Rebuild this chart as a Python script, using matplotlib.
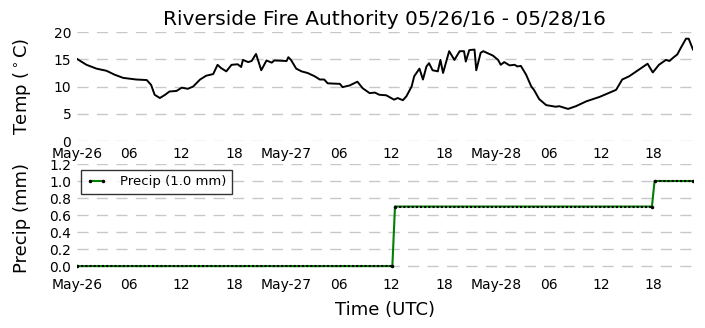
import datetime
import numpy as np
import matplotlib
matplotlib.use("Agg")
import matplotlib.pyplot as plt
import matplotlib.dates as mdates
from matplotlib.ticker import FuncFormatter

# hours since 2016-05-26 00:00 UTC, temperature in deg C
temp_hours = [0.0, 1.1, 2.25, 3.4, 4.3, 5.3, 6.8, 8.0, 8.5, 8.9, 9.5, 10.1, 10.6, 11.4,
              12.0, 12.7, 13.3, 14.1, 14.8, 15.6, 16.1, 16.5, 17.1, 17.7, 18.4, 18.8,
              19.0, 19.6, 20.0, 20.5, 21.1, 21.7, 22.3, 22.6, 24.0, 24.2, 24.5, 25.1,
              25.7, 26.4, 27.2, 27.8, 28.3, 28.7, 30.1, 30.4, 31.2, 32.1, 32.7, 33.5,
              34.1, 34.6, 35.4, 36.3, 36.7, 37.3, 37.7, 38.3, 38.6, 39.2, 39.6, 40.0,
              40.3, 40.7, 41.3, 41.6, 41.9, 42.6, 43.2, 43.8, 44.3, 44.5, 44.9, 45.5,
              45.7, 46.2, 46.5, 47.6, 48.2, 48.5, 48.9, 49.5, 50.1, 50.4, 50.8, 51.4,
              52.0, 52.3, 52.9, 53.7, 54.8, 55.2, 56.2, 57.1, 58.3, 59.8, 61.7, 62.4,
              63.2, 64.3, 65.3, 65.9, 66.6, 67.4, 67.8, 68.3, 68.7, 69.1, 69.7, 70.0,
              70.5]
temp_vals = [15.1, 14.0, 13.3, 12.9, 12.2, 11.6, 11.3, 11.2, 10.3, 8.5, 7.9, 8.5, 9.1, 9.2,
             9.8, 9.6, 10.0, 11.3, 12.0, 12.3, 14.0, 13.4, 12.8, 14.0, 14.1, 13.6,
             14.9, 14.5, 14.7, 16.0, 13.0, 14.8, 14.4, 14.8, 14.7, 15.4, 14.9, 13.3,
             12.8, 12.5, 11.9, 11.3, 11.3, 10.6, 10.5, 9.9, 10.2, 10.9, 9.7, 8.8,
             8.9, 8.5, 8.4, 7.6, 7.9, 7.5, 8.2, 10.0, 11.9, 13.3, 11.3, 13.7,
             14.3, 13.0, 12.8, 14.9, 12.5, 16.5, 14.9, 16.5, 16.5, 14.6, 16.7, 16.8,
             13.0, 16.2, 16.5, 15.7, 14.9, 14.0, 14.5, 13.9, 14.0, 13.7, 13.8, 12.2,
             10.0, 9.4, 7.7, 6.6, 6.3, 6.4, 5.9, 6.4, 7.3, 8.1, 9.4, 11.3,
             11.9, 13.1, 14.2, 12.6, 14.0, 14.9, 14.7, 15.4, 15.9, 17.1, 18.8, 18.8,
             16.8]

# cumulative precipitation (mm), breakpoints
precip_hours = [0.0, 36.1, 36.4, 65.8, 66.1, 70.5]
precip_vals = [0.0, 0.0, 0.7, 0.7, 1.0, 1.0]
precip_total = 1.0

title = "Riverside Fire Authority 05/26/16 - 05/28/16"
start = datetime.datetime(2016, 5, 26)


def to_dates(hours):
    return [start + datetime.timedelta(hours=h) for h in hours]


def fmt_time(x, pos):
    d = mdates.num2date(x)
    if d.hour == 0:
        return d.strftime("%b-%d")
    return d.strftime("%H")


def style_axis(ax):
    for s in ax.spines.values():
        s.set_visible(False)
    ax.tick_params(length=0, labelsize=10, pad=4)
    ax.yaxis.grid(True, color="#c8c8c8", linestyle=(0, (8, 6)), linewidth=1)
    ax.set_axisbelow(True)
    ax.xaxis.set_major_locator(mdates.HourLocator(byhour=[0, 6, 12, 18]))
    ax.xaxis.set_major_formatter(FuncFormatter(fmt_time))
    ax.set_xlim(to_dates([0.0])[0], to_dates([70.5])[0])


fig = plt.figure(figsize=(7.05, 3.28), dpi=100)
ax1 = fig.add_axes([0.109, 0.570, 0.874, 0.332])
ax2 = fig.add_axes([0.109, 0.168, 0.874, 0.332])

t_dates = to_dates(temp_hours)
ax1.plot(t_dates, temp_vals, color="black", linewidth=1.4)
ax1.set_ylim(0, 20)
ax1.set_yticks([0, 5, 10, 15, 20])
style_axis(ax1)
ax1.set_ylabel("Temp ($^\\circ$C)", fontsize=13, labelpad=15)
ax1.set_title(title, fontsize=14.5, pad=5)

p_dates = to_dates(precip_hours)
ax2.plot(p_dates, precip_vals, color="green", linewidth=1.5,
         label="Precip (%.1f mm)" % precip_total, marker="o", markersize=1.5,
         markerfacecolor="black", markeredgecolor="black")
# flat stretches show dense black sample markers
for i in range(0, len(p_dates), 2):
    ax2.plot(p_dates[i:i + 2], precip_vals[i:i + 2], color="black",
             linestyle=(0, (1, 1)), linewidth=1.5)
ax2.set_ylim(-0.08, 1.2)
ax2.set_yticks([0.0, 0.2, 0.4, 0.6, 0.8, 1.0, 1.2])
ax2.yaxis.set_major_formatter(FuncFormatter(lambda v, p: "%.1f" % v))
style_axis(ax2)
ax2.set_ylabel("Precip (mm)", fontsize=13, labelpad=13)
ax2.set_xlabel("Time (UTC)", fontsize=13, labelpad=6)
leg = ax2.legend(loc="upper left", fontsize=9.5, fancybox=False, numpoints=2,
                 handlelength=1.6, handletextpad=1.0,
                 bbox_to_anchor=(0.0, 0.98), borderaxespad=0.3)
leg.get_frame().set_edgecolor("black")
leg.get_frame().set_linewidth(1.0)

fig.savefig("out.png", dpi=100)
